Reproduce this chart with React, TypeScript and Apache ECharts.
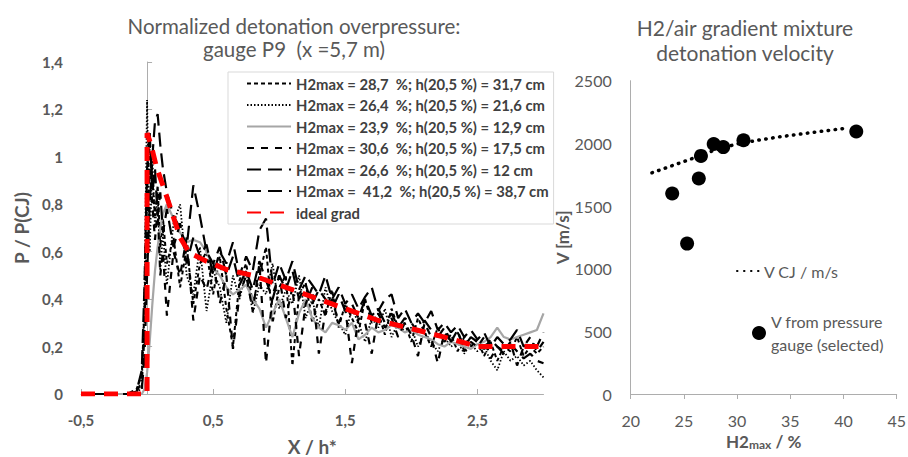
import React, { useEffect, useRef } from 'react';
import * as echarts from 'echarts';

// ---- Left chart: normalized overpressure P/P(CJ) vs X/h* ----
const pX = [-0.5, -0.3, -0.15, -0.08, -0.04, -0.02, 0, 0.02, 0.04, 0.06, 0.08, 0.1, 0.12, 0.15,
  0.2, 0.25, 0.3, 0.35, 0.4, 0.45, 0.5, 0.55, 0.6, 0.65, 0.7, 0.75, 0.8, 0.85, 0.9, 0.95,
  1.0, 1.05, 1.1, 1.15, 1.2, 1.25, 1.3, 1.35, 1.4, 1.45,
  1.5, 1.55, 1.6, 1.65, 1.7, 1.75, 1.8, 1.85, 1.9, 1.95,
  2.0, 2.05, 2.1, 2.15, 2.2, 2.25, 2.3, 2.35, 2.4, 2.45,
  2.5, 2.55, 2.6, 2.65, 2.7, 2.75, 2.8, 2.85, 2.9, 2.95, 3.0];

const s287 = [0, 0, 0, 0.02, 0.08, 0.35,
  0.85, 1.05, 0.9, 0.75, 0.88, 0.62, 0.74, 0.55,
  0.66, 0.45, 0.62, 0.38, 0.55, 0.6, 0.42, 0.58, 0.36, 0.2, 0.48, 0.55, 0.38, 0.5, 0.62, 0.3,
  0.45, 0.5, 0.12, 0.42, 0.47, 0.3, 0.4, 0.33, 0.44, 0.28,
  0.38, 0.32, 0.26, 0.4, 0.3, 0.34, 0.25, 0.36, 0.28, 0.3,
  0.22, 0.32, 0.26, 0.2, 0.28, 0.22, 0.25, 0.18, 0.24, 0.2,
  0.23, 0.16, 0.22, 0.14, 0.2, 0.18, 0.24, 0.16, 0.2, 0.17, 0.2];

const s264 = [0, 0, 0, 0, 0.03, 0.4,
  1.24, 0.6, 1.0, 0.7, 0.85, 0.52, 0.68, 0.46,
  0.72, 0.8, 0.5, 0.42, 0.62, 0.35, 0.52, 0.45, 0.3, 0.5, 0.4, 0.52, 0.34, 0.46, 0.42, 0.55,
  0.36, 0.44, 0.38, 0.5, 0.32, 0.4, 0.28, 0.45, 0.35, 0.3,
  0.25, 0.36, 0.3, 0.22, 0.32, 0.28, 0.36, 0.24, 0.3, 0.26,
  0.28, 0.2, 0.26, 0.22, 0.18, 0.24, 0.2, 0.22, 0.17, 0.21,
  0.18, 0.2, 0.14, 0.1, 0.18, 0.14, 0.16, 0.12, 0.14, 0.1, 0.07];

const s239 = [0, 0, 0, 0, 0, 0.02,
  0.09, 0.22, 0.38, 0.52, 0.62, 0.7, 0.76, 0.8,
  0.74, 0.68, 0.64, 0.65, 0.64, 0.6, 0.53, 0.5, 0.45, 0.42, 0.44, 0.46, 0.4, 0.36, 0.28, 0.34,
  0.4, 0.32, 0.24, 0.34, 0.4, 0.32, 0.28, 0.26, 0.3, 0.29,
  0.27, 0.3, 0.23, 0.25, 0.28, 0.26, 0.27, 0.29, 0.28, 0.26,
  0.27, 0.25, 0.24, 0.23, 0.21, 0.2, 0.22, 0.21, 0.2, 0.19,
  0.21, 0.22, 0.24, 0.28, 0.24, 0.23, 0.24, 0.25, 0.26, 0.27, 0.34];

const s306 = [0, 0, 0, 0.01, 0.05, 0.25,
  0.7, 0.95, 0.8, 0.65, 0.78, 0.5, 0.6, 0.33,
  0.6, 0.5, 0.66, 0.31, 0.5, 0.44, 0.56, 0.38, 0.5, 0.19, 0.42, 0.5, 0.35, 0.55, 0.13, 0.42,
  0.5, 0.32, 0.45, 0.16, 0.38, 0.45, 0.17, 0.35, 0.4, 0.3,
  0.36, 0.13, 0.32, 0.3, 0.17, 0.34, 0.28, 0.32, 0.24, 0.3,
  0.25, 0.16, 0.3, 0.24, 0.13, 0.26, 0.22, 0.27, 0.18, 0.22,
  0.2, 0.24, 0.15, 0.2, 0.18, 0.22, 0.12, 0.2, 0.24, 0.18, 0.22];

const s266 = [0, 0, 0, 0, 0.02, 0.15,
  0.5, 0.8, 1.0, 1.15, 1.18, 1.05, 0.95, 0.85,
  0.75, 0.7, 0.62, 0.88, 0.75, 0.6, 0.55, 0.62, 0.5, 0.58, 0.46, 0.52, 0.44, 0.56, 0.48, 0.4,
  0.5, 0.44, 0.52, 0.4, 0.46, 0.38, 0.44, 0.4, 0.36, 0.42,
  0.35, 0.38, 0.32, 0.4, 0.33, 0.36, 0.3, 0.34, 0.28, 0.32,
  0.3, 0.26, 0.31, 0.27, 0.24, 0.28, 0.22, 0.26, 0.2, 0.24,
  0.22, 0.19, 0.23, 0.2, 0.17, 0.21, 0.18, 0.15, 0.17, 0.14, 0.13];

const s412 = [0, 0, 0, 0.01, 0.1, 0.45,
  0.95, 1.1, 0.85, 0.95, 0.75, 0.85, 0.68, 0.78,
  0.62, 0.72, 0.55, 0.66, 0.58, 0.63, 0.5, 0.6, 0.55, 0.64, 0.5, 0.58, 0.52, 0.69, 0.74, 0.46,
  0.55, 0.48, 0.56, 0.44, 0.5, 0.46, 0.42, 0.5, 0.4, 0.45,
  0.38, 0.42, 0.36, 0.41, 0.45, 0.35, 0.4, 0.42, 0.32, 0.36,
  0.3, 0.34, 0.3, 0.35, 0.27, 0.3, 0.26, 0.29, 0.24, 0.27,
  0.23, 0.26, 0.2, 0.24, 0.21, 0.23, 0.27, 0.2, 0.22, 0.2, 0.26];

const idealX = [-0.5, 0, 0, 0.03, 0.07, 0.15, 0.25, 0.32, 0.45, 0.6, 0.8, 1.0, 1.3, 1.53, 1.75, 2.04, 2.25, 2.5, 2.55, 3.0];
const idealY = [0, 0, 1.1, 1.05, 0.96, 0.83, 0.66, 0.595, 0.56, 0.525, 0.5, 0.46, 0.4, 0.354, 0.31, 0.27, 0.24, 0.2, 0.2, 0.2];

const seriesNames = [
  'H2max = 28,7  %; h(20,5 %) = 31,7 cm',
  'H2max = 26,4  %; h(20,5 %) = 21,6 cm',
  'H2max = 23,9  %; h(20,5 %) = 12,9 cm',
  'H2max = 30,6  %; h(20,5 %) = 17,5 cm',
  'H2max = 26,6  %; h(20,5 %) = 12 cm',
  'H2max =  41,2  %; h(20,5 %) = 38,7 cm',
];
const seriesValues = [s287, s264, s239, s306, s266, s412];
const idealName = 'ideal grad';

const xTickValues = [-0.5, 0.5, 1.5, 2.5];

// ---- Right chart: detonation velocity ----
const vcjX = [22, 24, 26, 28, 30, 32, 34, 36, 38, 40];
const vcjY = [1765, 1825, 1885, 1950, 1995, 2026, 2052, 2075, 2097, 2118];
const gaugeX = [23.9, 25.3, 26.4, 26.6, 27.8, 28.7, 30.6, 41.2];
const gaugeY = [1600, 1200, 1720, 1900, 1995, 1970, 2025, 2095];
const vcjName = 'V CJ / m/s';
const gaugeName = 'V from pressure gauge (selected)';

const lineStyles: any[] = [
  { color: '#000000', width: 2, type: [4, 3] },
  { color: '#000000', width: 1.8, type: [1.5, 2] },
  { color: '#A6A6A6', width: 2.2, type: 'solid' },
  { color: '#000000', width: 2.2, type: [7, 7] },
  { color: '#000000', width: 2.2, type: [14, 7] },
  { color: '#000000', width: 2.2, type: [14, 7] },
];

const FONT = 'Lato';
const GREY = '#595959';
const AXIS = '#ADADAD';

const zip = (xs: number[], ys: number[]) => xs.map((x, i) => [x, ys[i]]);
const comma = (v: number) => String(Math.round(v * 10) / 10).replace('.', ',');

export default function App() {
  const ref = useRef<HTMLDivElement>(null);
  useEffect(() => {
    if (!ref.current) return;
    const chart = echarts.init(ref.current, undefined, { renderer: 'svg' });
    const option: any = {
      animation: false,
      textStyle: { fontFamily: FONT },
      title: [
        {
          text: 'Normalized detonation overpressure:\ngauge P9  (x =5,7 m)',
          left: 289, top: 9, textAlign: 'center',
          textStyle: { fontFamily: FONT, fontSize: 20.5, fontWeight: 'normal', color: GREY, lineHeight: 23 },
        },
        {
          text: 'H2/air gradient mixture\ndetonation velocity',
          left: 740, top: 9.5, textAlign: 'center',
          textStyle: { fontFamily: FONT, fontSize: 21, fontWeight: 'normal', color: GREY, lineHeight: 25 },
        },
      ],
      legend: [
        {
          orient: 'vertical', left: 228, top: 72,
          padding: [4, 5, 4, 18],
          borderColor: '#D9D9D9', borderWidth: 1,
          itemWidth: 44, itemHeight: 14, itemGap: 6.5,
          itemStyle: { opacity: 0 },
          data: [...seriesNames, idealName],
          textStyle: { fontFamily: FONT, fontSize: 14.8, fontWeight: 'bold', color: '#404040', lineHeight: 14 },
        },
        {
          orient: 'vertical', left: 736, top: 263, padding: 0,
          itemWidth: 22, itemHeight: 14,
          itemStyle: { opacity: 0 },
          data: [vcjName],
          textStyle: { fontFamily: FONT, fontSize: 16, color: GREY },
        },
        {
          orient: 'vertical', left: 752, top: 298.5, padding: 0,
          itemWidth: 14, itemHeight: 14,
          data: [gaugeName],
          formatter: () => 'V from pressure\ngauge (selected)',
          textStyle: { fontFamily: FONT, fontSize: 16, color: GREY, lineHeight: 23, padding: [23, 0, 0, 0] },
        },
      ],
      grid: [
        { left: 81, top: 62, width: 462.5, height: 332, outerBoundsMode: 'none' },
        { left: 630.7, top: 80.7, width: 266, height: 313.3, outerBoundsMode: 'none' },
      ],
      xAxis: [
        {
          type: 'value', gridIndex: 0, min: -0.5, max: 3,
          name: 'X / h*', nameLocation: 'middle', nameGap: 43,
          nameTextStyle: { fontFamily: FONT, fontSize: 19, fontWeight: 'bold', color: GREY, lineHeight: 18 },
          axisLine: { show: true, lineStyle: { color: AXIS, width: 1 } },
          axisTick: { show: true, inside: true, length: 5, customValues: xTickValues, lineStyle: { color: AXIS } },
          axisLabel: { customValues: xTickValues, formatter: (v: number) => comma(v), margin: 18,
            fontFamily: FONT, fontSize: 15, fontWeight: 'bold', color: GREY },
          splitLine: { show: false },
        },
        {
          type: 'value', gridIndex: 1, min: 20, max: 45, interval: 5,
          name: '{a|H2}{b|max}{a| / %}', nameLocation: 'middle', nameGap: 37,
          nameTextStyle: {
            rich: {
              a: { fontFamily: FONT, fontSize: 17, fontWeight: 'bold', color: GREY, lineHeight: 18 },
              b: { fontFamily: FONT, fontSize: 12, fontWeight: 'bold', color: GREY, lineHeight: 18, verticalAlign: 'bottom' },
            },
          },
          axisLine: { show: true, lineStyle: { color: AXIS, width: 1 } },
          axisTick: { show: true, inside: false, length: 5, lineStyle: { color: AXIS } },
          axisLabel: { margin: 18, fontFamily: FONT, fontSize: 16, color: GREY },
          splitLine: { show: false },
        },
      ],
      yAxis: [
        {
          type: 'value', gridIndex: 0, min: 0, max: 1.4, interval: 0.2,
          name: 'P / P(CJ)', nameLocation: 'middle', nameGap: 48,
          nameTextStyle: { fontFamily: FONT, fontSize: 19, fontWeight: 'bold', color: GREY },
          axisLine: { show: true, lineStyle: { color: AXIS, width: 1 } },
          axisTick: { show: true, inside: true, length: 5, lineStyle: { color: AXIS } },
          axisLabel: { formatter: (v: number) => comma(v), margin: 18,
            fontFamily: FONT, fontSize: 15, fontWeight: 'bold', color: GREY },
          splitLine: { show: false },
        },
        {
          type: 'value', gridIndex: 1, min: 0, max: 2500, interval: 500,
          name: 'V [m/s]', nameLocation: 'middle', nameGap: 55,
          nameTextStyle: { fontFamily: FONT, fontSize: 17, fontWeight: 'bold', color: GREY },
          axisLine: { show: true, lineStyle: { color: AXIS, width: 1 } },
          axisTick: { show: false },
          axisLabel: { margin: 19, formatter: (v: number) => String(v), fontFamily: FONT, fontSize: 16, color: GREY },
          splitLine: { show: false },
        },
      ],
      series: [
        ...seriesNames.map((name, i) => ({
          name, type: 'line', xAxisIndex: 0, yAxisIndex: 0,
          symbol: 'none', showSymbol: false,
          color: lineStyles[i].color,
          lineStyle: lineStyles[i],
          data: zip(pX, seriesValues[i]),
          z: 2,
        })),
        {
          name: idealName, type: 'line', xAxisIndex: 0, yAxisIndex: 0,
          symbol: 'none', showSymbol: false, color: '#FF0000',
          lineStyle: { color: '#FF0000', width: 5, type: [14, 9] },
          data: zip(idealX, idealY), z: 3,
        },
        {
          name: vcjName, type: 'line', xAxisIndex: 1, yAxisIndex: 1,
          symbol: 'none', showSymbol: false, color: '#000000',
          lineStyle: { color: '#000000', width: 3.5, type: [0.5, 6.5], cap: 'round' },
          data: zip(vcjX, vcjY),
        },
        {
          name: gaugeName, type: 'scatter', xAxisIndex: 1, yAxisIndex: 1,
          symbol: 'circle', symbolSize: 14, color: '#000000',
          itemStyle: { color: '#000000', opacity: 1 },
          data: zip(gaugeX, gaugeY),
        },
      ],
    };
    chart.setOption(option);
    return () => chart.dispose();
  }, []);
  return <div ref={ref} style={{ position: 'absolute', left: 0, top: 0, width: 908, height: 457 }} />;
}
